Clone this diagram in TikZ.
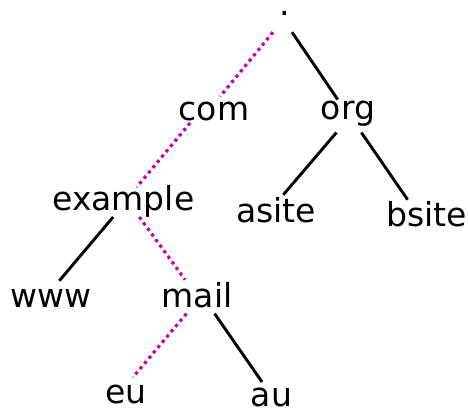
\documentclass[tikz,border=0pt]{standalone}
\usepackage{fontspec}
\setmainfont{DejaVu Sans}
\definecolor{pathpink}{RGB}{200,0,170}
\begin{document}
\begin{tikzpicture}[x=1pt, y=-1pt,
  label/.style={anchor=base, inner sep=0pt, outer sep=0pt,
    font=\fontsize{33pt}{40pt}\selectfont,
    text height=24pt, text depth=5pt},
  link/.style={draw=black, line width=2.9pt},
  path link/.style={draw=pathpink, line width=3.2pt, dash pattern=on 3.2pt off 3.7pt}]
  \useasboundingbox (0,0) rectangle (468,410);

  % domain names, placed on their baselines
  \node[label, text height=6pt, text depth=16.5pt, minimum width=44pt] (root) at (285,15.7) {.};
  \node[label, text height=23.5pt, text depth=3pt] (com) at (214,120) {com};
  \node[label, text height=20pt, text depth=13pt] (org) at (348,119.5) {org};
  \node[label, text height=23pt, text depth=7pt] (example) at (123.3,210) {example};
  \node[label, text height=28pt] (asite) at (276,222.7) {asite};
  \node[label, text height=27pt] (bsite) at (426.7,226.7) {bsite};
  \node[label, text height=27pt] (www) at (51.2,307.7) {www};
  \node[label, text height=28pt, text depth=6pt] (mail) at (197,307.7) {mail};
  \node[label, text height=26pt] (eu) at (126,403.3) {eu};
  \node[label, text depth=3pt] (au) at (271.5,406) {au};

  % plain tree edges
  \draw[link] (root.302) -- (org.122);
  \draw[link] (org.235.5) -- (asite.66.6);
  \draw[link] (org.309.5) -- (bsite.140);
  \draw[link] (example.236.4) -- (www.63.6);
  \draw[link] (mail.316.1) -- (au.125);

  % highlighted lookup path
  \draw[path link] (root.223) -- (com.65);
  \draw[path link] (com.209) -- (example.48);
  \draw[path link] (example.317.9) -- (mail.125.7);
  \draw[path link] (mail.238.5) -- (eu.66.1);
\end{tikzpicture}
\end{document}
